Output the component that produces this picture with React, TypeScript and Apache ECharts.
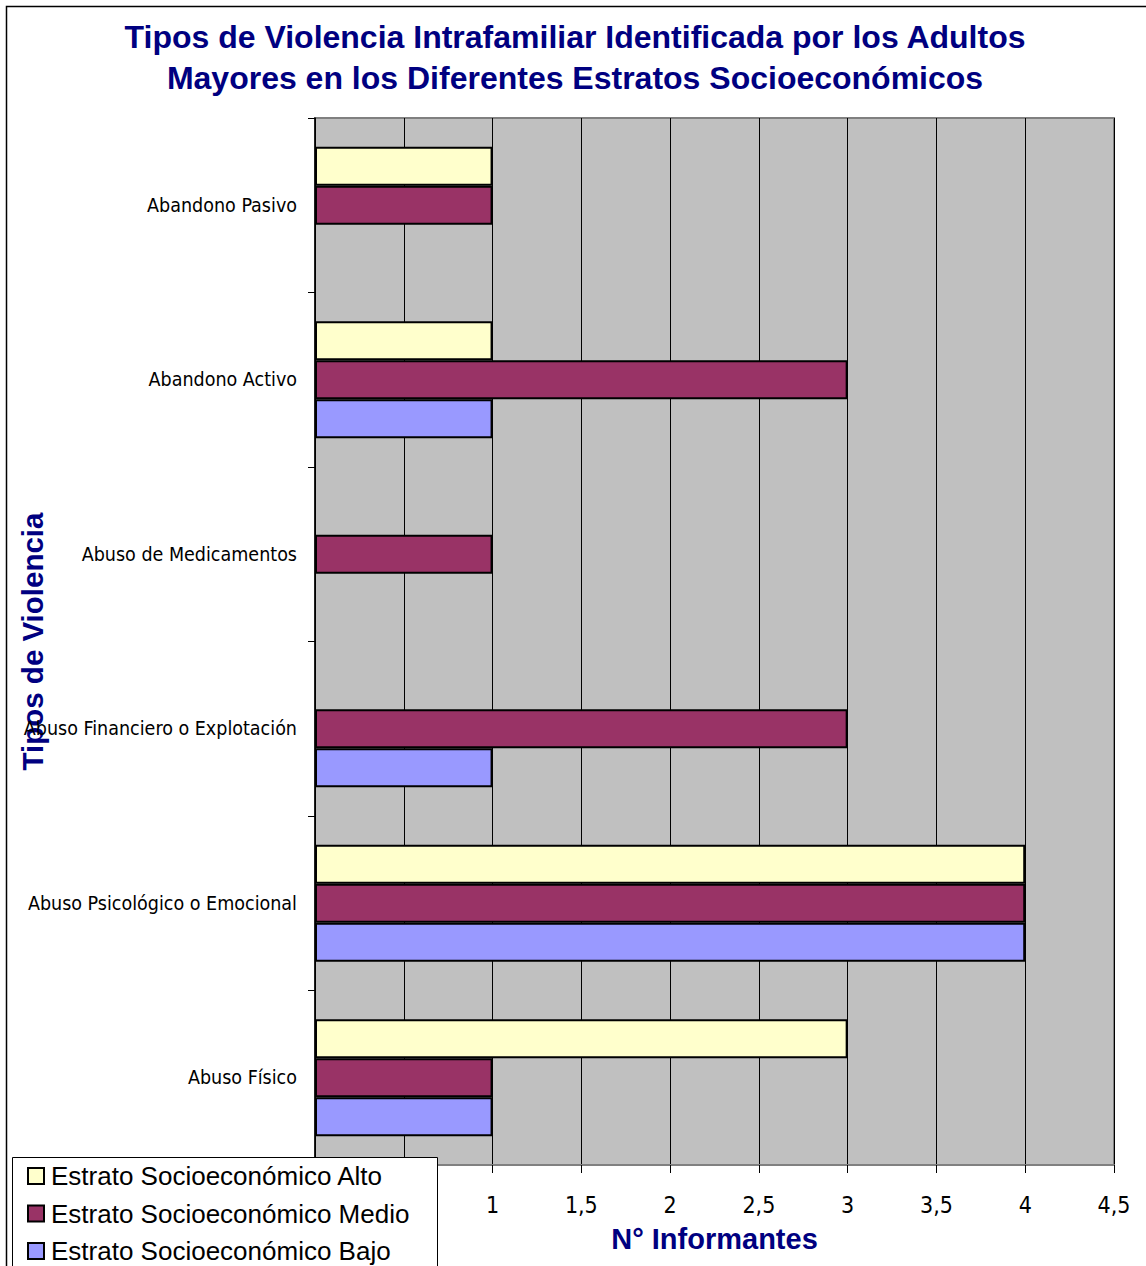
import React, { useEffect, useRef } from "react";
import * as echarts from "echarts";

const categories = [
  "Abandono Pasivo",
  "Abandono Activo",
  "Abuso de Medicamentos",
  "Abuso Financiero o Explotación",
  "Abuso Psicológico o Emocional",
  "Abuso Físico",
];
const alto = [1, 1, null, null, 4, 3];
const medio = [1, 3, 1, 3, 4, 1];
const bajo = [null, 1, null, 1, 4, 1];
const seriesNames = [
  "Estrato Socioeconómico Alto",
  "Estrato Socioeconómico Medio",
  "Estrato Socioeconómico Bajo",
];
const seriesColors = ["#FFFFCC", "#993366", "#9999FF"];
const xTicks = { min: 0, max: 4.5, interval: 0.5 };

export default function App() {
  const ref = useRef<HTMLDivElement>(null);
  useEffect(() => {
    document.body.style.margin = "0";
    const chart = echarts.init(ref.current!, null, { renderer: "svg" });
    const narrow = "'Liberation Sans Narrow', 'DejaVu Sans Condensed', 'Arial Narrow', sans-serif";
    const arial = "'Liberation Sans', Arial, sans-serif";
    const data = [alto, medio, bajo];
    chart.setOption({
      animation: false,
      backgroundColor: "#ffffff",
      title: {
        text: "Tipos de Violencia Intrafamiliar Identificada por los Adultos\nMayores en los Diferentes Estratos Socioeconómicos",
        left: 575,
        textAlign: "center",
        top: 16,
        padding: 0,
        textStyle: {
          fontFamily: arial,
          fontSize: 32,
          fontWeight: "bold",
          color: "#000080",
          lineHeight: 41,
        },
      },
      grid: {
        left: 315,
        top: 118,
        right: 32,
        bottom: 101,
        containLabel: false,
        outerBoundsMode: "none",
        show: true,
        backgroundColor: "#C0C0C0",
        borderColor: "#808080",
        borderWidth: 2,
      },
      legend: {
        orient: "vertical",
        left: 27,
        top: 1163,
        padding: 0,
        z: 60,
        itemWidth: 16,
        itemHeight: 16,
        itemGap: 11.5,
        icon: "rect",
        data: seriesNames,
        textStyle: { fontFamily: arial, fontSize: 26, color: "#000", lineHeight: 26, padding: [0, 0, 0, 2] },
      },
      graphic: [
        {
          type: "rect",
          z: 50,
          shape: { x: 6.5, y: 6.5, width: 1160, height: 1280 },
          style: { fill: "none", stroke: "#000", lineWidth: 1.5 },
        },
        {
          type: "rect",
          z: 50,
          shape: { x: 12.5, y: 1157.5, width: 425, height: 130 },
          style: { fill: "#fff", stroke: "#000", lineWidth: 1 },
        },
      ],
      xAxis: {
        type: "value",
        min: xTicks.min,
        max: xTicks.max,
        interval: xTicks.interval,
        name: "N° Informantes",
        nameLocation: "middle",
        nameGap: 59,
        nameMoveOverlap: false,
        nameTextStyle: { fontFamily: arial, fontSize: 29, fontWeight: "bold", color: "#000080" },
        axisLine: { show: true, lineStyle: { color: "#808080", width: 2 } },
        axisTick: { show: true, length: 8, lineStyle: { color: "#000", width: 1 } },
        axisLabel: {
          margin: 28,
          fontFamily: narrow,
          fontSize: 23,
          color: "#000",
          // 0 and 0,5 lie under the legend box in the reference
          formatter: (v: number) => (v < 1 ? "" : String(v).replace(".", ",")),
        },
        splitLine: { show: true, lineStyle: { color: "#000", width: 1 } },
      },
      yAxis: {
        type: "category",
        data: categories,
        inverse: true,
        name: "Tipos de Violencia",
        nameLocation: "middle",
        nameRotate: 90,
        nameGap: 268,
        nameMoveOverlap: false,
        nameTextStyle: { fontFamily: arial, fontSize: 29.5, fontWeight: "bold", color: "#000080" },
        axisLine: { show: true, lineStyle: { color: "#000", width: 1.5 } },
        axisTick: { show: true, length: 7, lineStyle: { color: "#000", width: 1 } },
        axisLabel: { margin: 18, fontFamily: narrow, fontSize: 19.5, color: "#000" },
        splitLine: { show: false },
      },
      series: seriesNames.map((name, i) => ({
        name,
        type: "bar",
        data: data[i],
        barGap: "0%",
        barCategoryGap: "33%",
        itemStyle: { color: seriesColors[i], borderColor: "#000", borderWidth: 2 },
      })),
    });
    return () => chart.dispose();
  }, []);
  return <div ref={ref} style={{ width: 1146, height: 1266 }} />;
}
